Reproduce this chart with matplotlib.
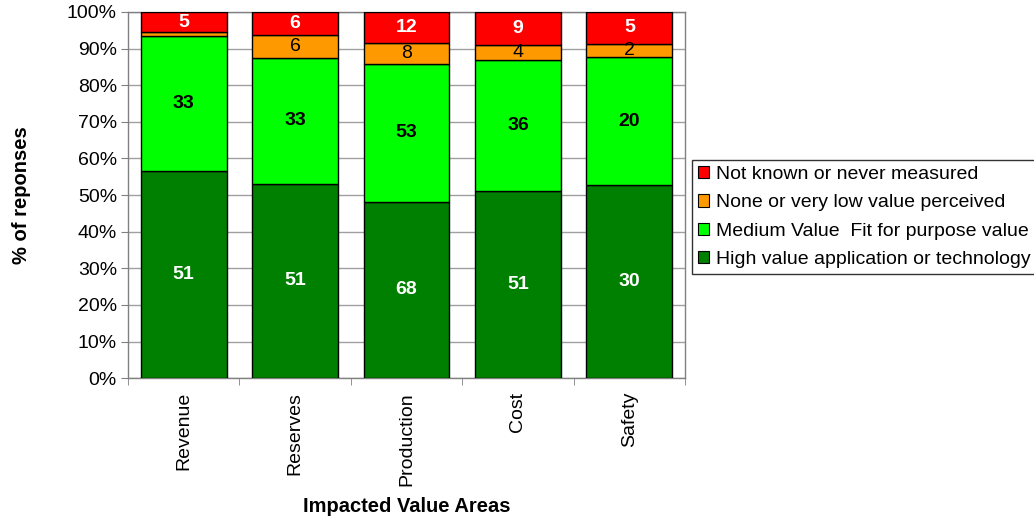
import numpy as np
import matplotlib.pyplot as plt
from matplotlib.patches import Patch

plt.rcParams['font.family'] = ['Liberation Sans', 'DejaVu Sans']

areas = ["Revenue", "Reserves", "Production", "Cost", "Safety"]
high_value = [51, 51, 68, 51, 30]
medium_value = [33, 33, 53, 36, 20]
low_value = [1, 6, 8, 4, 2]
not_known = [5, 6, 12, 9, 5]

series = [
    ("High value application or technology", high_value, "#008000", "white", "bold"),
    ("Medium Value  Fit for purpose value", medium_value, "#00FF00", "black", "bold"),
    ("None or very low value perceived", low_value, "#FF9900", "black", "normal"),
    ("Not known or never measured", not_known, "#FF0000", "white", "bold"),
]

counts = np.array([s[1] for s in series], dtype=float)
totals = counts.sum(axis=0)
shares = counts / totals * 100

fig = plt.figure(figsize=(10.34, 5.18), dpi=100)
ax = fig.add_axes([0.1238, 0.270, 0.5387, 0.707])

x = np.arange(len(areas))
bottom = np.zeros(len(areas))
for (name, vals, color, tcolor, weight), pct in zip(series, shares):
    ax.bar(x, pct, bottom=bottom, width=0.77, color=color,
           edgecolor="black", linewidth=1, zorder=3)
    for i, (v, p) in enumerate(zip(vals, pct)):
        if p >= 2:
            ax.text(x[i], bottom[i] + p / 2, str(v), ha="center", va="center",
                    color=tcolor, fontsize=14, fontweight=weight, zorder=4)
    bottom += pct

ax.set_xlim(-0.5, len(areas) - 0.5)
ax.set_ylim(0, 100)
ax.set_yticks(np.arange(0, 101, 10))
ax.set_yticklabels([f"{v}%" for v in range(0, 101, 10)], fontsize=14)
ax.yaxis.grid(True, color="#A0A0A0", linewidth=1, zorder=0)

ax.set_xticks(x)
ax.set_xticklabels(areas, rotation=90, fontsize=14)
ax.tick_params(axis="x", length=0, pad=10)
ax.set_xticks(np.arange(-0.5, len(areas)), minor=True)
ax.tick_params(axis="x", which="minor", length=5, color="#808080")
ax.tick_params(axis="y", length=5, color="#808080", pad=3)

for sp in ax.spines.values():
    sp.set_color("#808080")
    sp.set_linewidth(1)

ax.set_ylabel("% of reponses", fontsize=14.5, fontweight="bold", labelpad=26)
ax.set_xlabel("Impacted Value Areas", fontsize=14.5, fontweight="bold", labelpad=8)

handles = [Patch(facecolor=c, edgecolor="black", linewidth=0.8, label=n)
           for n, _, c, _, _ in reversed(series)]
fig.legend(handles=handles, loc="upper left", bbox_to_anchor=(0.669, 0.691),
           frameon=True, fancybox=False, edgecolor="black", fontsize=14,
           handlelength=0.6, handleheight=0.6, handletextpad=0.35,
           labelspacing=0.58, borderpad=0.3, borderaxespad=0)

fig.savefig("out.png", dpi=100)
